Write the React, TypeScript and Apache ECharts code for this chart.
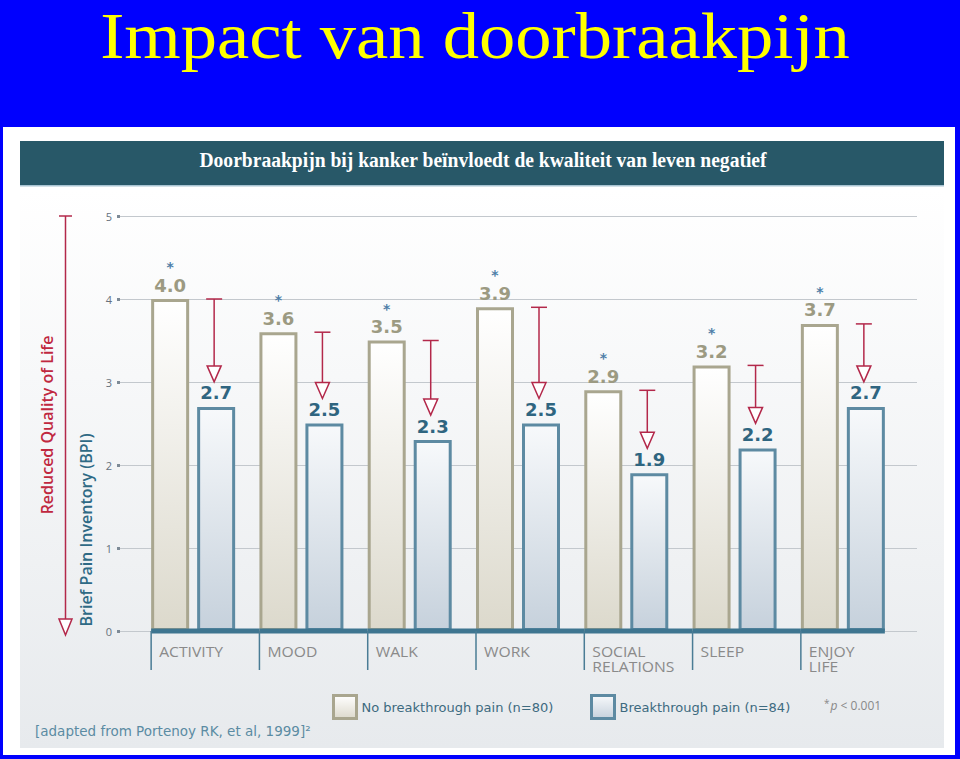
import React, { useEffect, useRef } from "react";
import * as echarts from "echarts";

const categories = ["ACTIVITY", "MOOD", "WALK", "WORK", "SOCIAL\nRELATIONS", "SLEEP", "ENJOY\nLIFE"];
const noBreakthrough = [4.0, 3.6, 3.5, 3.9, 2.9, 3.2, 3.7];
const breakthrough = [2.7, 2.5, 2.3, 2.5, 1.9, 2.2, 2.7];
const yTicks = [0, 1, 2, 3, 4, 5];
const seriesNames = ["No breakthrough pain (n=80)", "Breakthrough pain (n=84)"];

const TITLE = "Impact van doorbraakpijn";
const SUBTITLE = "Doorbraakpijn bij kanker beïnvloedt de kwaliteit van leven negatief";
const SOURCE = "[adapted from Portenoy RK, et al, 1999]²";

const BAR_W = 38;
const GAP = 8;
const PAIR = BAR_W * 2 + GAP;
const RED = "#b3284a";
const TEAL = "#3e7590";

const tanFill = new echarts.graphic.LinearGradient(0, 0, 0, 1, [
  { offset: 0, color: "#ffffff" },
  { offset: 1, color: "#dcd9cc" },
]);
const blueFill = new echarts.graphic.LinearGradient(0, 0, 0, 1, [
  { offset: 0, color: "#f7f9fb" },
  { offset: 1, color: "#c6d1dc" },
]);

export default function App() {
  const ref = useRef<HTMLDivElement>(null);
  useEffect(() => {
    if (!ref.current) return;
    const chart = echarts.init(ref.current, null, { renderer: "svg" });
    const arrowData = categories.map((_, i) => [i, noBreakthrough[i], breakthrough[i]]);
    const legendText = { color: "#3d6a80", fontSize: 13, fontFamily: "DejaVu Sans" };
    const option: any = {
      animation: false,
      backgroundColor: "#0000fe",
      grid: [
        { left: 120, right: 43, top: 216, bottom: 128 },
        { left: 139, width: 758, top: 216, bottom: 128 },
      ],
      xAxis: [
        { type: "value", gridIndex: 0, show: false, min: 0, max: 1 },
        {
          type: "category",
          gridIndex: 1,
          data: categories,
          axisLine: { show: false },
          axisTick: { show: false },
          axisLabel: { show: false },
        },
      ],
      yAxis: [
        {
          type: "value",
          gridIndex: 0,
          min: 0,
          max: 5,
          interval: 1,
          axisLine: { show: false },
          axisTick: { show: true, length: 3, lineStyle: { color: "#7d8a96", width: 3 } },
          axisLabel: {
            color: "#66717c",
            fontSize: 11,
            fontFamily: "Open Sans",
            margin: 8,
            formatter: (v: number) => (yTicks.includes(v) ? String(v) : ""),
          },
          splitLine: { lineStyle: { color: "#c3c8cd", width: 1 } },
        },
        { type: "value", gridIndex: 1, min: 0, max: 5, interval: 1, show: false, splitLine: { show: false } },
      ],
      legend: [
        {
          data: [{ name: seriesNames[0], itemStyle: { color: tanFill, borderColor: "#a9a68f", borderWidth: 3 } }],
          left: 332,
          top: 694,
          padding: 0,
          itemWidth: 23,
          itemHeight: 23,
          icon: "rect",
          textStyle: legendText,
        },
        {
          data: [{ name: seriesNames[1], itemStyle: { color: blueFill, borderColor: "#5d8aa2", borderWidth: 3 } }],
          left: 590,
          top: 694,
          padding: 0,
          itemWidth: 23,
          itemHeight: 23,
          icon: "rect",
          textStyle: legendText,
        },
      ],
      series: [
        {
          name: seriesNames[0],
          type: "bar",
          xAxisIndex: 1,
          yAxisIndex: 1,
          data: noBreakthrough,
          barWidth: BAR_W,
          barGap: (GAP / BAR_W) * 100 + "%",
          itemStyle: { color: tanFill, borderColor: "#a9a68f", borderWidth: 3 },
          label: {
            show: true,
            position: "top",
            distance: 4,
            formatter: (p: any) => `{s|*}\n{v|${Number(p.value).toFixed(1)}}`,
            rich: {
              s: { color: "#4f7fa8", fontSize: 14, lineHeight: 16, fontFamily: "DejaVu Sans", fontWeight: "bold" },
              v: { color: "#9c9a82", fontSize: 18, lineHeight: 20, fontFamily: "DejaVu Sans", fontWeight: "bold" },
            },
          },
        },
        {
          name: seriesNames[1],
          type: "bar",
          xAxisIndex: 1,
          yAxisIndex: 1,
          data: breakthrough,
          barWidth: BAR_W,
          itemStyle: { color: blueFill, borderColor: "#5d8aa2", borderWidth: 3 },
          label: {
            show: true,
            position: "top",
            distance: 4,
            formatter: (p: any) => Number(p.value).toFixed(1),
            color: "#2f6580",
            fontSize: 18,
            lineHeight: 20,
            fontFamily: "DejaVu Sans",
            fontWeight: "bold",
          },
        },
        {
          type: "custom",
          xAxisIndex: 1,
          yAxisIndex: 1,
          data: arrowData,
          encode: { x: 0, y: 1 },
          clip: false,
          z: 5,
          silent: true,
          renderItem: (params: any, api: any) => {
            const i = api.value(0);
            const a = api.value(1);
            const b = api.value(2);
            const pA = api.coord([i, a]);
            const cx = pA[0];
            const yA = pA[1];
            const yB = api.coord([i, b])[1];
            const y0 = api.coord([i, 0])[1];
            const band = api.size([1, 0])[0];
            const left = cx - PAIR / 2;
            const isLast = i === categories.length - 1;
            const right = isLast ? cx + PAIR / 2 : left + band;
            const ax = cx + 21;
            const tip = yB - 25;
            return {
              type: "group",
              children: [
                { type: "rect", shape: { x: left, y: y0 - 2.5, width: right - left, height: 5 }, style: { fill: TEAL } },
                { type: "line", shape: { x1: left, y1: y0, x2: left, y2: y0 + 39 }, style: { stroke: "#4a7c95", lineWidth: 1.5 } },
                {
                  type: "text",
                  x: left + 8,
                  y: y0 + 13,
                  scaleX: 1.12,
                  style: {
                    text: categories[i],
                    x: 0,
                    y: 0,
                    fill: "#8a8a8a",
                    fontSize: 14,
                    fontFamily: "Open Sans",
                    lineHeight: 15,
                    align: "left",
                    verticalAlign: "top",
                  },
                },
                { type: "line", shape: { x1: ax - 8, y1: yA, x2: ax + 8, y2: yA }, style: { stroke: RED, lineWidth: 1.5 } },
                { type: "line", shape: { x1: ax, y1: yA, x2: ax, y2: tip - 16 }, style: { stroke: RED, lineWidth: 1.5 } },
                {
                  type: "polygon",
                  shape: { points: [[ax - 7, tip - 16], [ax + 7, tip - 16], [ax, tip]] },
                  style: { fill: "#ffffff", stroke: RED, lineWidth: 1.5 },
                },
              ],
            };
          },
        },
      ],
      graphic: [
        { type: "rect", shape: { x: 3, y: 127, width: 952, height: 628 }, style: { fill: "#ffffff" }, z: -10 },
        {
          type: "rect",
          shape: { x: 20, y: 190, width: 924, height: 558 },
          style: {
            fill: new echarts.graphic.LinearGradient(0, 0, 0, 1, [
              { offset: 0, color: "#ffffff" },
              { offset: 1, color: "#e7eaed" },
            ]),
          },
          z: -9,
        },
        { type: "rect", shape: { x: 20, y: 141, width: 924, height: 44 }, style: { fill: "#285868" }, z: -8 },
        { type: "rect", shape: { x: 20, y: 185, width: 924, height: 1.5 }, style: { fill: "#a8c4d2" }, z: -8 },
        {
          type: "text",
          x: 475,
          y: 3,
          scaleX: 1.1,
          style: { text: TITLE, fill: "#ffff00", fontSize: 66, fontFamily: "Liberation Serif", align: "center", verticalAlign: "top" },
        },
        {
          type: "text",
          x: 483,
          y: 160,
          scaleX: 0.89,
          style: {
            text: SUBTITLE,
            fill: "#ffffff",
            fontSize: 22,
            fontWeight: "bold",
            fontFamily: "Liberation Serif",
            align: "center",
            verticalAlign: "middle",
          },
        },
        // left vertical arrow
        { type: "line", shape: { x1: 59, y1: 216, x2: 72, y2: 216 }, style: { stroke: RED, lineWidth: 1.5 } },
        { type: "line", shape: { x1: 65.5, y1: 216, x2: 65.5, y2: 619 }, style: { stroke: RED, lineWidth: 1.5 } },
        {
          type: "polygon",
          shape: { points: [[59, 619], [72, 619], [65.5, 635]] },
          style: { fill: "#ffffff", stroke: RED, lineWidth: 1.5 },
        },
        {
          type: "text",
          x: 47,
          y: 425,
          rotation: Math.PI / 2,
          style: { text: "Reduced Quality of Life", fill: "#c0283f", fontSize: 16, fontWeight: 600, fontFamily: "Open Sans", align: "center", verticalAlign: "middle" },
        },
        {
          type: "text",
          x: 86,
          y: 530,
          rotation: Math.PI / 2,
          style: { text: "Brief Pain Inventory (BPI)", fill: "#2f6a85", fontSize: 16, fontWeight: 600, fontFamily: "Open Sans", align: "center", verticalAlign: "middle" },
        },
        {
          type: "text",
          x: 824,
          y: 705,
          style: {
            text: "{s|*}{i|p}{n| < 0.001}",
            verticalAlign: "middle",
            align: "left",
            rich: {
              s: { fill: "#888888", fontSize: 10, fontFamily: "Open Sans", verticalAlign: "top", padding: [0, 1, 4, 0] },
              i: { fill: "#888888", fontSize: 12, fontStyle: "italic", fontFamily: "Open Sans" },
              n: { fill: "#888888", fontSize: 12, fontFamily: "Open Sans" },
            },
          },
        },
        {
          type: "text",
          x: 35,
          y: 731,
          style: { text: SOURCE, fill: "#5b8ba3", fontSize: 13.5, fontFamily: "DejaVu Sans", align: "left", verticalAlign: "middle" },
        },
      ],
    };
    chart.setOption(option);
    return () => chart.dispose();
  }, []);
  return <div ref={ref} style={{ position: "fixed", left: 0, top: 0, width: 960, height: 759 }} />;
}
